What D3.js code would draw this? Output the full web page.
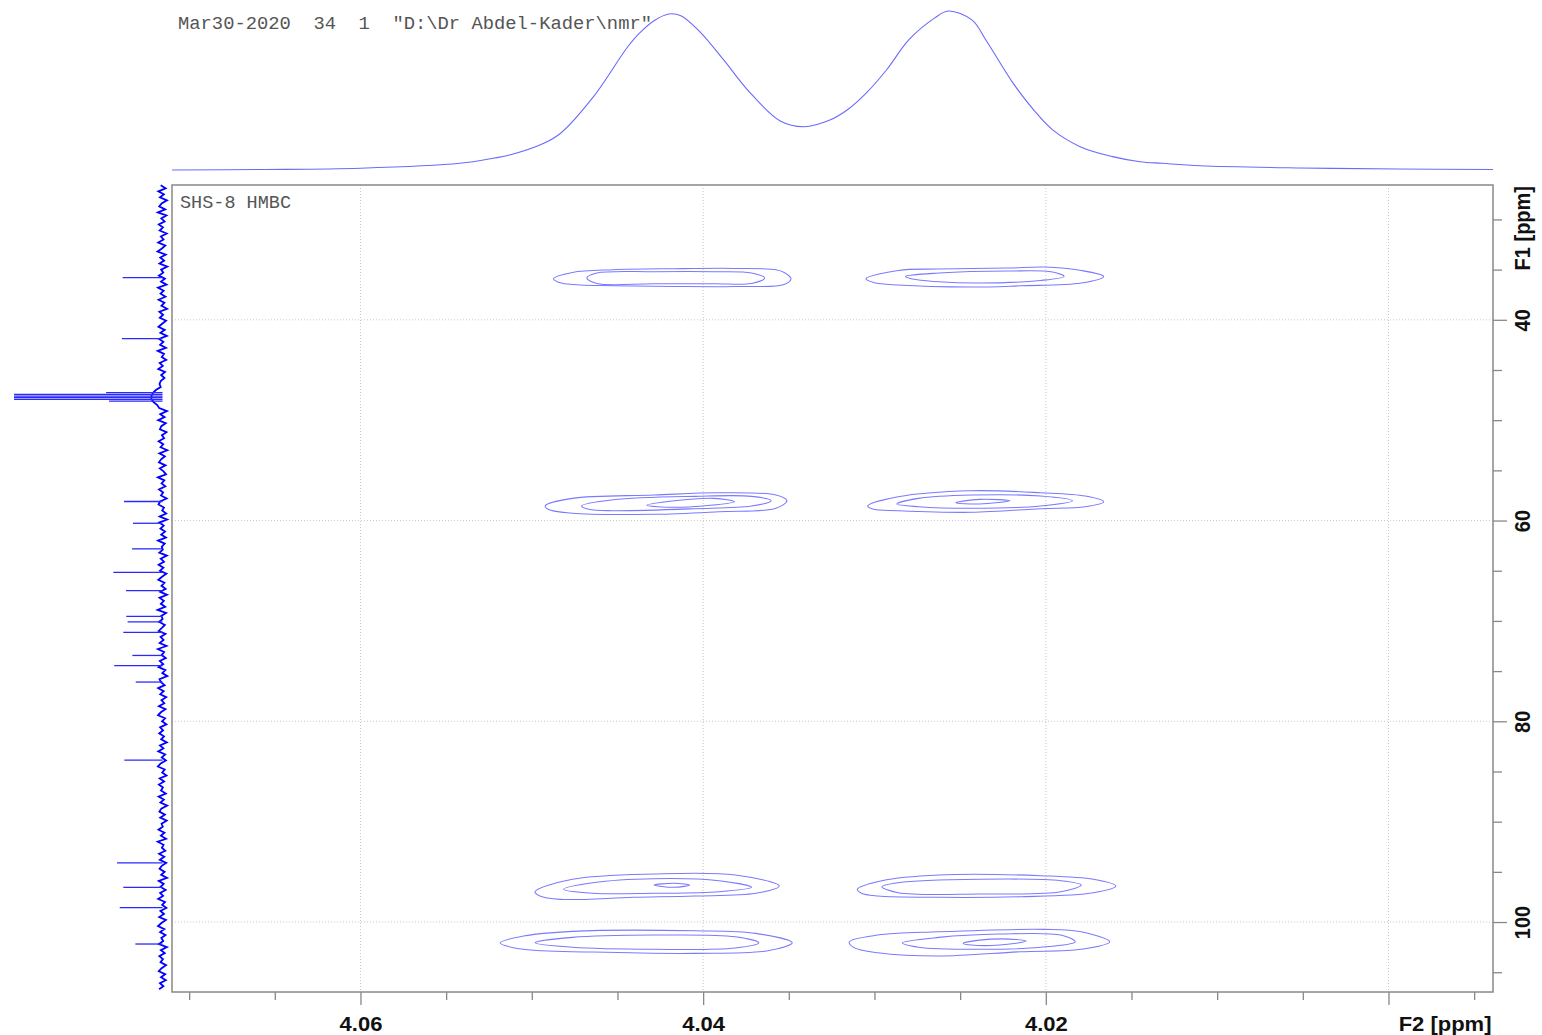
<!DOCTYPE html>
<html><head><meta charset="utf-8">
<script src="https://cdn.jsdelivr.net/npm/d3@7"></script>
<style>html,body{margin:0;padding:0;background:#fff;} svg{display:block;}</style>
</head><body><svg id="c" width="1542" height="1035"></svg>
<script>
// ---------- axis ticks / labels ----------
const f2Major = [4.06, 4.04, 4.02, 4.00];
const f2MajorLabels = ["4.06", "4.04", "4.02", "F2 [ppm]"];
const f2Minor = [4.07, 4.065, 4.055, 4.05, 4.045, 4.035, 4.03, 4.025, 4.015, 4.01, 4.005, 3.995];
const f1Major = [40, 60, 80, 100];
const f1MajorLabels = ["40", "60", "80", "100"];
const f1Minor = [30, 35, 45, 50, 55, 65, 70, 75, 85, 90, 95, 105];
const f1Title = "F1 [ppm]";
const headerText = 'Mar30-2020  34  1  "D:\\Dr Abdel-Kader\\nmr"';
const plotTitle = "SHS-8 HMBC";

// ---------- top 1D projection (F2) ----------
const topPpm = [4.0710, 4.0658, 4.0600, 4.0542, 4.0522, 4.0513, 4.0493, 4.0483, 4.0464, 4.0444, 4.0437, 4.0428, 4.0420, 4.0413, 4.0402, 4.0388, 4.0374, 4.0355, 4.0341, 4.0326, 4.0316, 4.0305, 4.0293, 4.0280, 4.0265, 4.0257, 4.0243, 4.0235, 4.0219, 4.0207, 4.0196, 4.0180, 4.0161, 4.0145, 4.0132, 4.0110, 4.0052, 3.9994, 3.9939];
const topInt = [0, 0.3, 1.1, 4.2, 7.5, 9.4, 16.8, 23.3, 46.1, 77.5, 86.2, 94.3, 98.1, 97.0, 87.0, 69.2, 50.3, 30.8, 27.2, 31.4, 37.7, 48.2, 62.9, 81.8, 95.5, 100, 94.3, 81.8, 54.5, 37.7, 25.2, 14.7, 8.4, 5.2, 4.2, 2.7, 1.3, 0.6, 0.3];

// ---------- left 1D projection (F1) ----------
const sidePeakPpm = [35.79, 41.88, 47.26, 47.43, 47.60, 47.76, 47.93, 48.10, 58.10, 60.27, 62.82, 65.16, 66.98, 69.55, 70.10, 71.14, 73.44, 74.46, 76.09, 83.86, 94.11, 96.54, 98.57, 102.19];
const sidePeakInt = [26.8, 27.3, 38, 100, 100, 100, 100, 36, 25.9, 19.9, 20.5, 33.1, 24.6, 24.4, 23.5, 26.4, 20.3, 32.5, 18.0, 25.7, 30.6, 26.4, 28.8, 18.3];
const noiseStart = 26.6, noiseStep = 0.3;
const sideNoise = [
 1.2,-2.1,2.8,-0.9,1.7,-3.0,0.6,2.2,-1.8,3.1,
 -2.6,0.8,-1.4,2.5,-0.3,1.9,-2.8,1.1,-0.7,2.9,
 -1.9,0.4,3.3,-2.2,1.5,-1.1,2.0,-3.2,0.9,-0.5,
 2.4,-1.6,1.0,-2.7,3.0,-0.8,1.3,-2.0,2.6,-1.3,
 0.7,-3.1,2.1,-0.4,1.8,-2.4,0.2,2.7,-1.5,1.4,
 -2.9,2.3,-0.6,1.6,-2.3,3.2,-1.0,0.5,-2.5,1.9,
 -0.2,2.8,-1.7,0.9,-1.3,1.2,2.0,1.2,4.5,6.5,
 7.5,7.5,6.0,3.5,2.2,-3.0,1.5,-1.4,2.9,-2.2,
 0.8,1.7,-2.7,0.4,-1.1,2.6,-0.5,1.3,-3.2,2.1,
 -1.6,0.9,2.4,-2.0,1.8,-0.7,-2.4,3.1,-1.2,0.6,
 -1.9,2.3,-0.4,1.0,-2.8,1.6,2.7,-1.0,0.2,-2.5,
 1.9,-3.1,2.2,-0.8,1.4,-1.7,0.9,-2.3,3.0,-1.5,
 0.5,-0.2,2.1,-2.9,1.2,-1.0,2.6,-0.6,1.7,-2.6,
 0.3,2.8,-1.3,0.7,-2.1,1.5,-3.0,2.0,-0.9,1.1,
 -1.8,3.3,-2.4,0.8,-0.1,2.3,-1.6,0.4,2.5,-2.0,
 1.3,-0.7,1.9,-2.7,3.1,-1.1,0.6,-2.2,1.8,-0.5,
 2.6,-1.9,0.1,-3.2,2.0,1.0,-1.4,2.9,-0.8,1.5,
 -2.5,0.7,-1.2,2.4,-2.0,1.1,3.0,-1.7,0.3,-2.6,
 1.6,-0.4,2.2,-1.0,0.9,-2.9,1.7,-0.6,2.8,-1.8,
 0.5,-2.3,1.2,3.1,-1.5,0.2,-2.7,1.9,-1.1,2.4,
 -0.3,1.0,-2.2,2.6,-0.9,1.4,-3.1,0.8,2.1,-1.6,
 1.5,-2.8,0.6,-0.2,2.7,-1.3,1.1,-2.4,3.2,-0.7,
 0.4,-1.9,2.3,-1.2,1.8,-2.5,0.5,2.0,-1.4,0.9,
 -3.0,2.5,-0.8,1.3,-2.1,1.6,-0.4,2.9,-1.7,0.2,
 -2.6,1.4,-1.0,2.2,-2.3,0.7,3.0,-1.2,1.6,-2.0,
 0.8,-0.5,2.4,-2.9,1.1,-1.5,2.1,-0.3,1.3,-2.4,
 0.6,2.5,-1.8,1.0,-2.2,1.7,-0.6,2.3,-1.1,0.8
];

// ---------- 2D contours: [F2 ppm, F1 ppm] ----------
const contourTL = [
 [[4.04874,35.91],[4.04763,35.28],[4.04525,35.01],[4.04169,34.91],[4.03812,34.88],[4.03575,35.01],[4.03527,35.28],[4.03487,35.91],[4.03527,36.48],[4.03812,36.68],[4.04169,36.68],[4.04525,36.61],[4.04763,36.48],[4.04845,36.25]],
 [[4.04679,35.84],[4.04620,35.34],[4.04287,35.21],[4.03931,35.21],[4.03717,35.34],[4.03641,35.84],[4.03717,36.38],[4.03931,36.41],[4.04287,36.41],[4.04620,36.38]]
];
const contourTR = [
 [[4.03050,35.91],[4.02862,35.08],[4.02624,34.94],[4.02221,34.84],[4.02007,34.74],[4.01793,35.08],[4.01662,35.68],[4.01793,36.34],[4.02149,36.61],[4.02434,36.74],[4.02862,36.54],[4.03005,36.28]],
 [[4.02819,35.68],[4.02624,35.34],[4.02221,35.14],[4.01960,35.24],[4.01893,35.68],[4.02031,36.08],[4.02387,36.34],[4.02624,36.21],[4.02791,35.88]]
];
const contourML = [
 [[4.04922,58.55],[4.04763,57.79],[4.04287,57.46],[4.03907,57.23],[4.03575,57.46],[4.03511,58.03],[4.03575,58.78],[4.03907,59.12],[4.04287,59.38],[4.04763,59.28],[4.04905,58.88]],
 [[4.04710,58.55],[4.04525,57.93],[4.04050,57.59],[4.03717,57.59],[4.03603,58.03],[4.03717,58.55],[4.04050,58.82],[4.04525,59.02],[4.04668,58.88]],
 [[4.04328,58.48],[4.04169,58.03],[4.03936,57.79],[4.03817,58.12],[4.04003,58.55],[4.04169,58.68]]
];
const contourMR = [
 [[4.03040,58.55],[4.02862,57.63],[4.02434,57.03],[4.02031,57.23],[4.01770,57.56],[4.01662,58.12],[4.01770,58.62],[4.02031,58.82],[4.02434,59.18],[4.02862,59.02],[4.03005,58.88]],
 [[4.02869,58.35],[4.02743,57.79],[4.02434,57.46],[4.02031,57.56],[4.01845,58.03],[4.02031,58.55],[4.02434,58.78],[4.02743,58.62]],
 [[4.02525,58.22],[4.02387,57.89],[4.02209,58.03],[4.02387,58.35]]
];
const contourR3L = [
 [[4.04981,96.98],[4.04763,95.74],[4.04287,95.21],[4.03812,95.31],[4.03556,96.41],[4.03693,97.14],[4.04050,97.41],[4.04406,97.54],[4.04834,97.74],[4.04953,97.41]],
 [[4.04815,96.74],[4.04644,96.08],[4.04287,95.68],[4.03907,95.88],[4.03717,96.54],[4.03907,96.98],[4.04287,97.14],[4.04644,97.14]],
 [[4.04287,96.31],[4.04169,96.14],[4.04078,96.31],[4.04169,96.54]]
];
const contourR3R = [
 [[4.03100,96.74],[4.02957,95.88],[4.02624,95.31],[4.02031,95.38],[4.01722,95.74],[4.01591,96.41],[4.01722,97.08],[4.02149,97.48],[4.02624,97.54],[4.02981,97.41],[4.03076,97.14]],
 [[4.02957,96.48],[4.02862,96.08],[4.02387,95.74],[4.01912,95.88],[4.01793,96.31],[4.01912,96.98],[4.02387,97.21],[4.02862,97.08]]
];
const contourR4L = [
 [[4.05185,102.07],[4.05048,101.40],[4.04763,100.93],[4.04050,100.87],[4.03693,101.13],[4.03480,102.07],[4.03622,102.86],[4.04050,103.12],[4.04644,102.99],[4.05048,102.72]],
 [[4.04981,102.07],[4.04763,101.53],[4.04287,101.30],[4.03812,101.47],[4.03675,102.07],[4.03812,102.59],[4.04287,102.72],[4.04763,102.52]]
];
const contourR4R = [
 [[4.03147,101.97],[4.02981,101.30],[4.02624,100.97],[4.02007,100.73],[4.01793,100.97],[4.01627,101.97],[4.01793,102.72],[4.02149,102.96],[4.02624,103.39],[4.02981,103.06],[4.03123,102.52]],
 [[4.02838,102.07],[4.02624,101.53],[4.02269,101.20],[4.01912,101.30],[4.01829,101.97],[4.02031,102.52],[4.02387,102.72],[4.02743,102.52]],
 [[4.02482,102.13],[4.02387,101.80],[4.02173,101.73],[4.02114,101.90],[4.02269,102.29],[4.02434,102.29]]
];

// ---------- layout ----------
const L = 172, R = 1493, T = 185, B = 992;
const svg = d3.select("#c");

const x = d3.scaleLinear().domain([4.0710, 3.9939]).range([L, R]);
const y = d3.scaleLinear().domain([26.57, 106.97]).range([T, B]);
const yTop = d3.scaleLinear().domain([0, 100]).range([170, 11]);
const xSide = d3.scaleLinear().domain([0, 100]).range([162.5, 14]);

const gridColor = "#c8c8c8", axisColor = "#888888";

// grid
const grid = svg.append("g");
grid.selectAll("line.gv").data(f2Major).join("line")
  .attr("x1", d => x(d)).attr("x2", d => x(d)).attr("y1", T).attr("y2", B)
  .attr("stroke", gridColor).attr("stroke-width", 1).attr("stroke-dasharray", "1,2");
grid.selectAll("line.gh").data(f1Major).join("line")
  .attr("x1", L).attr("x2", R).attr("y1", d => y(d)).attr("y2", d => y(d))
  .attr("stroke", gridColor).attr("stroke-width", 1).attr("stroke-dasharray", "1,2");

// contours
const cline = d3.line().x(d => x(d[0])).y(d => y(d[1])).curve(d3.curveCatmullRomClosed.alpha(0.5));
const allContours = [contourTL, contourTR, contourML, contourMR, contourR3L, contourR3R, contourR4L, contourR4R];
const cg = svg.append("g");
allContours.forEach(cluster => {
  cg.append("g").selectAll("path").data(cluster).join("path")
    .attr("d", cline).attr("fill", "none").attr("stroke", "#7a7aff").attr("stroke-width", 1.05);
});

// frame
svg.append("rect").attr("x", L).attr("y", T).attr("width", R - L).attr("height", B - T)
  .attr("fill", "none").attr("stroke", axisColor).attr("stroke-width", 1.5);

// x axis
function styleAxis(g) {
  g.select(".domain").remove();
  g.selectAll(".tick line").attr("stroke", axisColor).attr("stroke-width", 1.3);
}
svg.append("g").attr("transform", `translate(0,${B})`)
  .call(d3.axisBottom(x).tickValues(f2Minor).tickSize(8).tickFormat(""))
  .call(styleAxis);
const xMaj = svg.append("g").attr("transform", `translate(0,${B})`)
  .call(d3.axisBottom(x).tickValues(f2Major).tickSize(13).tickFormat((d, i) => f2MajorLabels[i]))
  .call(styleAxis);
xMaj.selectAll(".tick text")
  .attr("y", 39).attr("dy", 0)
  .attr("fill", "#111").attr("font-family", "'Liberation Sans', Arial, sans-serif")
  .attr("font-weight", "bold").attr("font-size", 20)
  .attr("transform", "scale(1.1,1)")
  .attr("text-anchor", (d, i) => i === f2Major.length - 1 ? "end" : "middle")
  .attr("x", (d, i) => i === f2Major.length - 1 ? (R - 2 - x(d)) / 1.1 : 0);

// y axis (right side)
svg.append("g").attr("transform", `translate(${R},0)`)
  .call(d3.axisRight(y).tickValues(f1Minor).tickSize(9).tickFormat(""))
  .call(styleAxis);
const yMaj = svg.append("g").attr("transform", `translate(${R},0)`)
  .call(d3.axisRight(y).tickValues(f1Major).tickSize(14).tickFormat((d, i) => f1MajorLabels[i]))
  .call(styleAxis);
yMaj.selectAll(".tick text")
  .attr("x", 0).attr("y", 0).attr("dy", 0).attr("dx", 0)
  .attr("fill", "#111").attr("font-family", "'Liberation Sans', Arial, sans-serif")
  .attr("font-weight", "bold").attr("font-size", 20)
  .attr("text-anchor", "middle")
  .attr("transform", "translate(37,0) scale(1.1,1) rotate(-90)");
svg.append("text").text(f1Title)
  .attr("fill", "#111").attr("font-family", "'Liberation Sans', Arial, sans-serif")
  .attr("font-weight", "bold").attr("font-size", 20)
  .attr("text-anchor", "end")
  .attr("transform", `translate(${R + 37},${T + 1}) scale(1.1,1) rotate(-90)`);

// top projection
const topData = topPpm.map((p, i) => [p, topInt[i]]);
svg.append("path").datum(topData)
  .attr("d", d3.line().x(d => x(d[0])).y(d => yTop(d[1])).curve(d3.curveCatmullRom.alpha(0.5)))
  .attr("fill", "none").attr("stroke", "#6a6aff").attr("stroke-width", 1.1);

// side projection
const noiseData = sideNoise.map((v, i) => [noiseStart + i * noiseStep, v]).filter(d => d[0] <= 106.97);
svg.append("path").datum(noiseData)
  .attr("d", d3.line().x(d => xSide(d[1])).y(d => y(d[0])))
  .attr("fill", "none").attr("stroke", "#0000ff").attr("stroke-width", 1.8);
svg.append("g").selectAll("path").data(sidePeakPpm.map((p, i) => [p, sidePeakInt[i]])).join("path")
  .attr("d", d => `M${xSide(0)},${y(d[0])}L${xSide(d[1])},${y(d[0])}`)
  .attr("stroke", "#2a2aff").attr("stroke-width", 1.3).attr("fill", "none");

// header texts
svg.append("text").text(headerText)
  .attr("x", 178).attr("y", 29).style("white-space", "pre")
  .attr("font-family", "'Liberation Mono', 'Courier New', monospace").attr("font-size", 18)
  .attr("fill", "#555").attr("textLength", 474).attr("lengthAdjust", "spacingAndGlyphs");
svg.append("text").text(plotTitle)
  .attr("x", 180).attr("y", 208).style("white-space", "pre")
  .attr("font-family", "'Liberation Mono', 'Courier New', monospace").attr("font-size", 18)
  .attr("fill", "#555").attr("textLength", 111).attr("lengthAdjust", "spacingAndGlyphs");
</script></body></html>
